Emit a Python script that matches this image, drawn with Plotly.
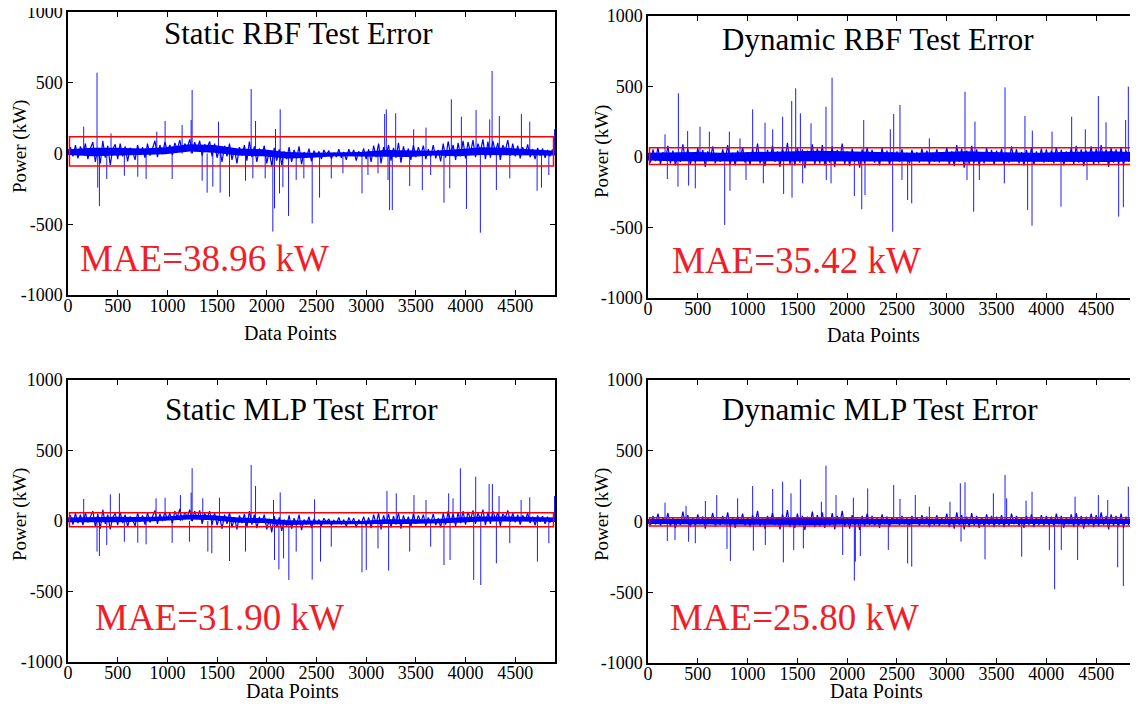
import numpy as np
import plotly.graph_objects as go

# ------------------------------
# data
# ------------------------------
titles = ["Static RBF Test Error", "Dynamic RBF Test Error",
          "Static MLP Test Error", "Dynamic MLP Test Error"]
mae_labels = ["MAE=38.96 kW", "MAE=35.42 kW", "MAE=31.90 kW", "MAE=25.80 kW"]

step = 25        # spacing of the base samples (data points)
band_step = 245  # spacing of the dense-core envelope samples

# static RBF
p1_base = [10, 45, -20, 60, -35, 50, -10, 70, -40, 35,
           80, -60, 40, -70, 90, -30, 55, -80, 30, 65,
           -40, 70, -20, 50, -55, 40, 15, -45, 60, -10,
           45, -30, 70, -15, 35, 90, -25, 60, -5, 80,
           20, 60, -10, 75, 30, 95, 10, 70, 40, 100,
           5, 80, 25, 90, -15, 65, 35, 85, -20, 70,
           -30, 40, -60, 55, -20, 70, -45, 30, -70, 45,
           -15, 60, -50, 85, -25, 50, -60, 35, -10, 55,
           -70, 20, -90, 40, -50, 30, -80, 15, -40, 45,
           -60, 25, -35, 50, -75, 10, -30, 35, -55, 20,
           -20, 15, -40, 25, -10, 20, -35, 5, -25, 30,
           -30, 10, -45, 30, -15, 25, -50, 15, -20, 35,
           -40, 30, -60, 55, -25, 70, -70, 45, -15, 60,
           -50, 40, -30, 75, -65, 50, -20, 35, -45, 60,
           -25, 45, -10, 55, -40, 30, -20, 60, -35, 25,
           -55, 70, -30, 85, -10, 60, -45, 75, -20, 90,
           -35, 80, 5, 95, -25, 70, 15, 100, -40, 85,
           -30, 90, 10, 75, -45, 60, 20, 95, -15, 70,
           -20, 55, -35, 45, -5, 65, -25, 30, -40, 40,
           -15, 35, -30, 25, -20, 30]
p1_spike_x = [158, 292, 299, 316, 390, 433, 567, 702, 786, 893, 977, 1048, 1148,
              1239, 1249, 1350, 1400, 1457, 1514, 1531, 1625, 1786, 1843, 1860,
              1887, 1984, 2061, 2078, 2088, 2128, 2135, 2162, 2219, 2296, 2373,
              2457, 2531, 2649, 2766, 2958, 3018, 3119, 3186, 3203, 3220, 3236,
              3263, 3297, 3438, 3478, 3565, 3602, 3649, 3783, 3841, 3857, 3958,
              4009, 4106, 4149, 4243, 4267, 4310, 4340, 4445, 4562, 4646, 4720,
              4764, 4838, 4895]
p1_spike_y = [190, 571, -241, -371, -180, 142, -157, -164, -180, 154, 230, -180, 201,
              237, 449, -192, -277, -234, 225, -277, -305, -192, 456, -176,
              230, -176, -552, -388, 173, -282, 312, -239, -442, -187, -176,
              -494, -312, -176, -140, -282, -152, -140, 279, 312, -187, -400,
              -400, 284, -230, 171, -258, 183, -152, -348, -246, 383, 260,
              -392, 307, -560, 241, 583, -258, 265, -176, 279, 225, -263,
              -241, -152, 171]
p1_core_hi = [30, 40, 40, 35, 45, 65, 60, 35, 30, 10, 5,
              5, 10, 25, 25, 20, 30, 45, 40, 30, 20]
p1_core_lo = [-10, -20, -15, -10, -5, 15, 5, -15, -20, -35, -30,
              -20, -20, -25, -25, -15, -20, -10, -15, -15, -15]

# dynamic RBF
p2_base = [20, -40, 55, -30, 70, -50, 35, -25, 80, -45,
           45, -60, 25, -35, 90, -20, 60, -55, 30, -40,
           65, -30, 50, -70, 40, -15, 75, -45, 20, -35,
           55, -25, 85, -50, 30, -60, 45, -20, 70, -40,
           35, -55, 60, -30, 95, -45, 25, -65, 50, -20,
           80, -35, 40, -70, 65, -25, 100, -50, 30, -60,
           70, -40, 55, -80, 45, -30, 90, -55, 60, -45,
           85, -60, 35, -40, 75, -70, 50, -25, 95, -50,
           40, -65, 60, -35, 25, -75, 55, -45, 70, -30,
           50, -40, 30, -60, 65, -25, 45, -55, 35, -20,
           40, -35, 55, -25, 30, -45, 50, -20, 35, -40,
           60, -30, 45, -50, 25, -35, 55, -40, 30, -25,
           70, -55, 40, -65, 85, -35, 60, -75, 45, -50,
           80, -40, 55, -60, 35, -45, 65, -30, 50, -55,
           45, -30, 60, -50, 30, -40, 75, -25, 55, -45,
           35, -60, 50, -35, 65, -55, 40, -30, 60, -40,
           55, -35, 45, -45, 70, -30, 50, -60, 40, -25,
           65, -50, 80, -40, 55, -65, 45, -35, 75, -55,
           60, -45, 85, -35, 50, -70, 65, -40, 55, -50,
           70, -60, 45, -35, 60, -40]
p2_spike_x = [171, 194, 301, 305, 398, 408, 475, 522, 616, 770, 817, 823, 924, 984,
              1051, 1158, 1175, 1252, 1352, 1362, 1443, 1446, 1483, 1530, 1553,
              1637, 1787, 1790, 1838, 1848, 2072, 2146, 2166, 2179, 2433, 2457,
              2467, 2530, 2550, 2607, 2648, 2825, 3183, 3203, 3270, 3283, 3327,
              3578, 3585, 3785, 3812, 3856, 3859, 4057, 4147, 4254, 4391, 4408,
              4522, 4599, 4726, 4773, 4796, 4823, 4890]
p2_spike_y = [161, -156, -210, 452, 184, -203, -222, 215, 180, -482, 180, -239, 132, -163,
              338, -187, 243, 196, 286, -262, 397, -288, 487, 310, -187,
              239, 357, -163, -187, 563, -277, -371, 262, -270, 196, -530,
              305, 369, -163, -305, -329, 132, 463, -163, -388, 251, -163,
              -187, 494, 291, -376, -487, 187, 180, -352, 286, 196, -163,
              433, 246, -423, -357, 262, 499, -270]
p2_core_hi = [30, 35, 35, 30, 35, 40, 45, 45, 40, 35, 30,
              30, 35, 40, 35, 30, 30, 35, 40, 40, 35]
p2_core_lo = [-25, -30, -30, -30, -30, -35, -35, -35, -30, -30, -30,
              -30, -30, -35, -30, -30, -30, -30, -35, -35, -30]

# static MLP
p3_base = [10, 40, -25, 55, -15, 45, -30, 60, -10, 35,
           70, -40, 50, -55, 80, -20, 45, -60, 25, 55,
           -30, 65, -15, 45, -40, 30, 10, -35, 55, -5,
           40, -25, 60, -10, 30, 75, -20, 50, 0, 65,
           15, 55, -15, 70, 25, 85, 5, 60, 30, 80,
           0, 70, 20, 75, -20, 55, 25, 70, -25, 60,
           -30, 35, -55, 45, -20, 60, -45, 25, -60, 40,
           -15, 50, -45, 70, -25, 45, -50, 30, -10, 45,
           -60, 15, -80, 35, -45, 25, -70, 10, -35, 40,
           -55, 20, -30, 45, -65, 10, -25, 30, -50, 15,
           -20, 10, -35, 20, -10, 15, -30, 5, -20, 25,
           -25, 10, -40, 25, -15, 20, -45, 10, -20, 30,
           -35, 25, -50, 45, -20, 55, -60, 40, -15, 50,
           -45, 35, -25, 60, -55, 40, -20, 30, -40, 50,
           -20, 40, -10, 45, -35, 25, -15, 50, -30, 20,
           -45, 55, -25, 70, -5, 50, -35, 60, -15, 70,
           -25, 65, 10, 75, -20, 55, 15, 80, -30, 65,
           -20, 70, 15, 60, -35, 50, 25, 75, -5, 55,
           -10, 45, -25, 40, 5, 55, -15, 30, -30, 40,
           -5, 35, -20, 30, -10, 25]
p3_spike_x = [158, 292, 316, 390, 426, 517, 567, 702, 786, 886, 977, 1048, 1131,
              1222, 1239, 1249, 1356, 1407, 1447, 1524, 1625, 1786, 1843, 1887,
              2068, 2078, 2122, 2135, 2169, 2222, 2296, 2457, 2481, 2541, 2649,
              2958, 3001, 3119, 3209, 3226, 3303, 3438, 3481, 3602, 3649, 3783,
              3830, 3844, 3874, 3948, 4082, 4102, 4153, 4237, 4270, 4310, 4337,
              4445, 4559, 4646, 4723, 4838, 4895]
p3_spike_y = [156, -217, -248, -170, 189, 196, -147, -154, -165, 161, 165, -154, 184,
              -147, 201, 374, 161, -217, -229, 165, -284, -217, 397, 248,
              149, -277, -343, 203, -265, -418, -217, -416, 154, -288, -182,
              -364, -347, -194, 213, -352, 196, -217, 184, 149, -182, -312,
              196, -277, 161, 374, -418, 314, -454, 262, 262, -300, 177,
              -158, 149, 168, -288, -158, 177]
p3_core_hi = [25, 30, 30, 28, 32, 45, 40, 25, 20, 5, 5,
              0, 0, 12, 12, 12, 25, 32, 32, 28, 25]
p3_core_lo = [-8, -8, -8, -5, 0, 10, 5, -12, -15, -28, -25,
              -22, -22, -22, -22, -18, -12, -3, 0, -3, -5]

# dynamic MLP
p4_base = [15, -25, 40, -20, 55, -30, 25, -15, 60, -35,
           30, -45, 20, -25, 70, -15, 45, -40, 25, -30,
           50, -20, 35, -50, 30, -10, 60, -35, 15, -25,
           40, -20, 65, -40, 25, -45, 35, -15, 55, -30,
           25, -40, 45, -20, 75, -35, 20, -50, 40, -15,
           60, -25, 30, -55, 50, -20, 80, -40, 25, -45,
           55, -30, 40, -60, 35, -25, 70, -40, 45, -35,
           65, -45, 30, -30, 60, -55, 40, -20, 75, -40,
           30, -50, 45, -25, 20, -60, 40, -35, 55, -25,
           40, -30, 25, -45, 50, -20, 35, -40, 30, -15,
           30, -25, 40, -20, 25, -35, 40, -15, 30, -30,
           45, -20, 35, -40, 20, -25, 45, -30, 25, -20,
           55, -40, 30, -50, 65, -25, 45, -55, 35, -40,
           60, -30, 40, -45, 30, -35, 50, -25, 40, -40,
           35, -25, 45, -40, 25, -30, 55, -20, 40, -35,
           30, -45, 40, -25, 50, -40, 30, -25, 45, -30,
           40, -25, 35, -35, 55, -20, 40, -45, 30, -20,
           50, -40, 60, -30, 40, -50, 35, -25, 55, -40,
           45, -35, 65, -25, 40, -55, 50, -30, 40, -40,
           55, -45, 35, -25, 45, -30]
p4_spike_x = [171, 194, 271, 382, 408, 475, 576, 690, 793, 827, 900, 1051, 1058,
              1178, 1252, 1352, 1359, 1436, 1463, 1530, 1560, 1741, 1787, 1888,
              1955, 2062, 2072, 2082, 2132, 2206, 2413, 2467, 2530, 2607, 2648,
              2684, 2825, 3032, 3136, 3143, 3183, 3384, 3468, 3585, 3601, 3752,
              3796, 3856, 4030, 4083, 4150, 4288, 4314, 4522, 4616, 4716, 4773,
              4823, 4883]
p4_spike_y = [133, -138, -131, 110, -143, -154, 145, 187, -194, -279, 164, 251, -206,
              -166, 230, 282, -289, 199, -201, 298, -190, 140, 395, 187,
              -237, 168, -418, -284, -244, 234, -201, 258, 159, -296, -319,
              187, 105, 140, 270, -143, 277, -267, 199, 329, 164, -249,
              147, 211, -201, -479, -201, 176, -272, 187, 152, -324, -456,
              246, -95]
p4_core_hi = [18, 20, 20, 20, 20, 24, 24, 24, 20, 20, 18,
              18, 20, 20, 20, 18, 18, 20, 20, 20, 18]
p4_core_lo = [-18, -20, -20, -20, -22, -22, -24, -24, -22, -20, -18,
              -18, -20, -22, -20, -18, -18, -20, -20, -20, -18]

# red boxes around the error band
box_x = [15, 4885]
box_lo = [-88, -54, -40, -32]
box_hi = [119, 66, 59, 27]

x_ticks = [0, 500, 1000, 1500, 2000, 2500, 3000, 3500, 4000, 4500]
y_ticks = [-1000, -500, 0, 500, 1000]
y_ticktext = ["-1000", "-500", "0", "500", "1000"]

bases = [p1_base, p2_base, p3_base, p4_base]
spikes_x = [p1_spike_x, p2_spike_x, p3_spike_x, p4_spike_x]
spikes_y = [p1_spike_y, p2_spike_y, p3_spike_y, p4_spike_y]
cores_hi = [p1_core_hi, p2_core_hi, p3_core_hi, p4_core_hi]
cores_lo = [p1_core_lo, p2_core_lo, p3_core_lo, p4_core_lo]

# ------------------------------
# layout geometry (window pixels; the page body adds an 8 px margin,
# keep the page small enough that no scrollbar shows up)
# ------------------------------
OFF = 8
W, H = 1138 - OFF, 707 - 2 * OFF
# left, right, top, bottom of each plot area
boxes = [(68, 555, 12, 295), (648, 1136, 16, 298),
         (68, 555, 380, 662), (648, 1136, 380, 663)]
title_pos = [(298, 33), (878, 40), (301, 410), (880, 410)]
mae_pos = [(78, 258), (670, 260), (93, 617), (668, 617)]
ylab_pos = [(20, 147), (602, 152), (20, 515), (602, 515)]
xlab_pos = [(290, 333), (874, 335), (292, 691), (876, 691)]

FONT = "Liberation Serif, Times New Roman, serif"
RED = "#F01E28"
BLUE = "#0000FF"


def px(x):
    return (x - OFF) / W


def py(y):
    return 1 - (y - OFF) / H


fig = go.Figure()
for i in range(4):
    ax = "" if i == 0 else str(i + 1)

    # dense core of the error signal
    cx = np.arange(len(cores_hi[i])) * band_step
    fig.add_trace(go.Scatter(
        x=np.concatenate([cx, cx[::-1]]),
        y=np.concatenate([cores_hi[i], cores_lo[i][::-1]]),
        mode="lines", fill="toself", fillcolor=BLUE, line=dict(width=0),
        xaxis="x" + ax, yaxis="y" + ax, showlegend=False, hoverinfo="skip"))

    # the noisy error signal around zero
    bx = np.arange(len(bases[i])) * step
    fig.add_trace(go.Scatter(
        x=bx, y=bases[i], mode="lines",
        line=dict(color=BLUE, width=1.2),
        xaxis="x" + ax, yaxis="y" + ax, showlegend=False, hoverinfo="skip"))

    # isolated large errors, drawn as thin strokes from zero
    sx, sy = [], []
    for a, v in zip(spikes_x[i], spikes_y[i]):
        sx += [a, a, None]
        sy += [0, v, None]
    fig.add_trace(go.Scatter(
        x=sx, y=sy, mode="lines",
        line=dict(color=BLUE, width=0.9),
        xaxis="x" + ax, yaxis="y" + ax, showlegend=False, hoverinfo="skip"))

    l, r, t, b = boxes[i]
    common = dict(showgrid=False, zeroline=False, showline=True, linecolor="black",
                  linewidth=1.5, mirror="allticks", ticks="inside", ticklen=5,
                  tickcolor="black", automargin=False, ticklabeloverflow="allow",
                  tickfont=dict(family=FONT, size=18, color="black"))
    fig.update_layout(**{
        "xaxis" + ax: dict(domain=[px(l), px(r)], range=[0, 4900],
                           tickvals=x_ticks, anchor="y" + ax,
                           ticklabelstandoff=-6, **common),
        "yaxis" + ax: dict(domain=[py(b), py(t)], range=[-1000, 1000],
                           tickvals=y_ticks, ticktext=y_ticktext,
                           anchor="x" + ax, **common),
    })

    fig.add_shape(type="rect", xref="x" + ax, yref="y" + ax,
                  x0=box_x[0], x1=box_x[1], y0=box_lo[i], y1=box_hi[i],
                  line=dict(color="#FF0000", width=1.5))

    tx, ty = title_pos[i]
    fig.add_annotation(x=px(tx), y=py(ty), xref="paper", yref="paper",
                       xanchor="center", yanchor="middle",
                       text=titles[i], showarrow=False,
                       font=dict(family=FONT, size=31, color="black"))
    mx, my = mae_pos[i]
    fig.add_annotation(x=px(mx), y=py(my), xref="paper", yref="paper",
                       xanchor="left", yanchor="middle",
                       text=mae_labels[i], showarrow=False,
                       font=dict(family=FONT, size=37, color=RED))
    lx, ly = ylab_pos[i]
    fig.add_annotation(x=px(lx), y=py(ly), xref="paper", yref="paper",
                       xanchor="center", yanchor="middle",
                       text="Power (kW)", textangle=-90, showarrow=False,
                       font=dict(family=FONT, size=19, color="black"))
    dx, dy = xlab_pos[i]
    fig.add_annotation(x=px(dx), y=py(dy), xref="paper", yref="paper",
                       xanchor="center", yanchor="middle",
                       text="Data Points", showarrow=False,
                       font=dict(family=FONT, size=20, color="black"))

fig.update_layout(width=W, height=H, autosize=False,
                  margin=dict(l=0, r=0, t=0, b=0),
                  paper_bgcolor="white", plot_bgcolor="white")

fig.write_html("out.html")
